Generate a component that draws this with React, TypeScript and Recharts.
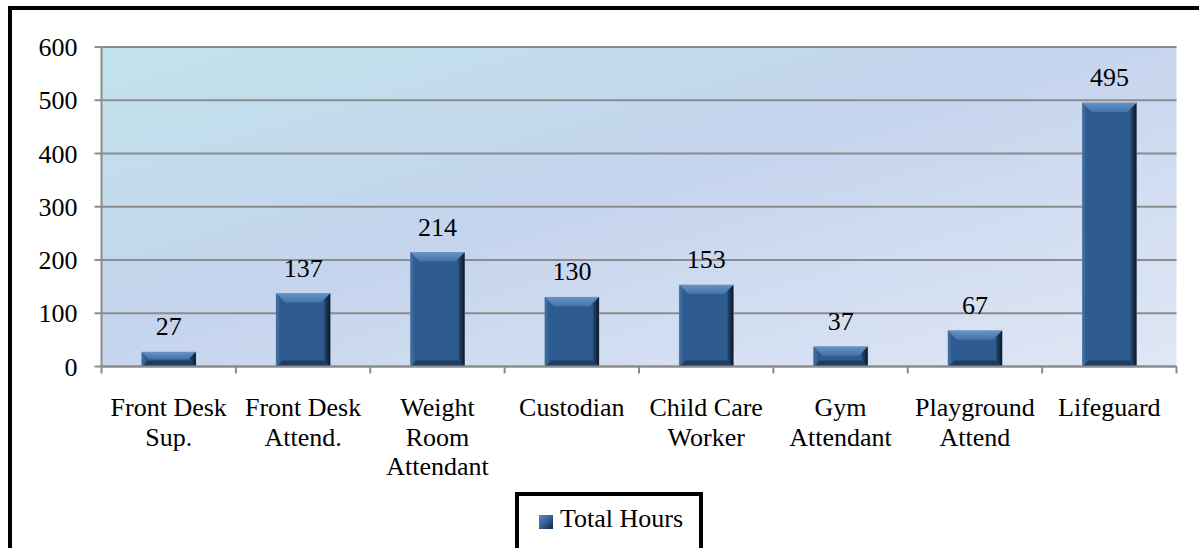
import React from "react";
import { BarChart, Bar, XAxis, YAxis, CartesianGrid, LabelList } from "recharts";

const categories = [
  "Front Desk\nSup.",
  "Front Desk\nAttend.",
  "Weight\nRoom\nAttendant",
  "Custodian",
  "Child Care\nWorker",
  "Gym\nAttendant",
  "Playground\nAttend",
  "Lifeguard",
];
const totalHours = [27, 137, 214, 130, 153, 37, 67, 495];
const yTicks = [0, 100, 200, 300, 400, 500, 600];
const seriesName = "Total Hours";

const data = categories.map((c, i) => ({ category: c, hours: totalHours[i] }));

const FONT = "Liberation Serif, Times New Roman, serif";
const GRID = "#8c8c8c";

const BevelBar = (props: any) => {
  const { x, y, width: w, height: h } = props;
  if (!h || h <= 0) return null;
  const b = Math.min(9, h / 2, w / 2);
  const sb = Math.min(6, h / 2, w / 2);
  const top = `${x},${y} ${x + w},${y} ${x + w - b},${y + b} ${x + b},${y + b}`;
  const right = `${x + w},${y} ${x + w},${y + h} ${x + w - sb},${y + h - sb} ${x + w - sb},${y + sb}`;
  const bottom = `${x},${y + h} ${x + w},${y + h} ${x + w - sb},${y + h - sb} ${x + sb},${y + h - sb}`;
  const left = `${x},${y} ${x + 3},${y + 3} ${x + 3},${y + h - 3} ${x},${y + h}`;
  return (
    <g>
      <rect x={x} y={y} width={w} height={h} fill="#2f5c90" stroke="#7f97b5" strokeWidth={0.8} />
      <polygon points={top} fill="url(#barTop)" />
      <polygon points={bottom} fill="#1f3d63" />
      <polygon points={right} fill="url(#barRight)" />
      <polygon points={left} fill="#3d6a9c" />
    </g>
  );
};

const XTick = (props: any) => {
  const { x, y, payload, index, width, visibleTicksCount } = props;
  const band =
    width && visibleTicksCount ? width / visibleTicksCount : (payload?.offset || 0) * 2;
  const lines = String(payload.value).split("\n");
  const isLast = index === visibleTicksCount - 1;
  return (
    <g>
      <line x1={x - band / 2} x2={x - band / 2} y1={y} y2={y + 7} stroke={GRID} strokeWidth={2} />
      {isLast && (
        <line x1={x + band / 2} x2={x + band / 2} y1={y} y2={y + 7} stroke={GRID} strokeWidth={2} />
      )}
      {lines.map((ln, i) => (
        <text
          key={i}
          x={x}
          y={y + 49.5 + i * 29.5}
          textAnchor="middle"
          fontSize={26}
          style={{ fontFamily: FONT }}
          fill="#000"
        >
          {ln}
        </text>
      ))}
    </g>
  );
};

const YTick = (props: any) => {
  const { x, y, payload } = props;
  return (
    <text
      x={x}
      y={y}
      dy="0.355em"
      textAnchor="end"
      fontSize={26}
      style={{ fontFamily: FONT }}
      fill="#000"
    >
      {payload.value}
    </text>
  );
};

const TopLabel = (props: any) => {
  const { x, y, width, value } = props;
  return (
    <text
      x={x + width / 2}
      y={y - 17}
      textAnchor="middle"
      fontSize={26}
      style={{ fontFamily: FONT }}
      fill="#000"
    >
      {value}
    </text>
  );
};

export default function App() {
  return (
    <div
      style={{
        position: "fixed",
        left: 0,
        top: 0,
        width: 1199,
        height: 548,
        overflow: "hidden",
        background: "#fff",
        fontFamily: FONT,
      }}
    >
      <div
        style={{
          position: "absolute",
          left: 8,
          top: 6,
          width: 1260,
          height: 620,
          border: "4px solid #000",
        }}
      />
      <div style={{ position: "absolute", left: 0, top: 0 }}>
        <BarChart
          width={1199}
          height={548}
          data={data}
          margin={{ top: 47, right: 22.5, left: 0, bottom: 0 }}
          barCategoryGap="30%"
          style={{ fontFamily: FONT }}
        >
          <defs>
            <linearGradient id="plotBg" x1="0" y1="0" x2="1" y2="1">
              <stop offset="0" stopColor="#c1e3eb" />
              <stop offset="0.45" stopColor="#c4d4ed" />
              <stop offset="1" stopColor="#e0e7f5" />
            </linearGradient>
            <linearGradient id="barTop" x1="0" y1="0" x2="0" y2="1">
              <stop offset="0" stopColor="#6592c6" />
              <stop offset="1" stopColor="#4473aa" />
            </linearGradient>
            <linearGradient id="barRight" x1="0" y1="0" x2="1" y2="0">
              <stop offset="0" stopColor="#27496f" />
              <stop offset="1" stopColor="#0c1826" />
            </linearGradient>
          </defs>
          <CartesianGrid vertical={false} stroke={GRID} strokeWidth={2} fill="url(#plotBg)" />
          <XAxis
            dataKey="category"
            height={181.5}
            tickSize={0}
            tickMargin={0}
            tickLine={false}
            axisLine={{ stroke: GRID, strokeWidth: 2 }}
            interval={0}
            tick={<XTick />}
          />
          <YAxis
            width={101.5}
            domain={[0, 600]}
            ticks={yTicks}
            interval={0}
            tickSize={7}
            tickMargin={17}
            axisLine={{ stroke: GRID, strokeWidth: 2 }}
            tickLine={{ stroke: GRID, strokeWidth: 2 }}
            tick={<YTick />}
          />
          <Bar dataKey="hours" name={seriesName} shape={BevelBar} isAnimationActive={false}>
            <LabelList dataKey="hours" position="top" content={<TopLabel />} />
          </Bar>
        </BarChart>
      </div>
      <div
        style={{
          position: "absolute",
          left: 515,
          top: 492,
          width: 180,
          height: 80,
          border: "4px solid #000",
          background: "#fff",
        }}
      >
        <div
          style={{
            position: "absolute",
            left: 20,
            top: 19,
            width: 14,
            height: 14,
            background: "linear-gradient(135deg, #5b8bc2 0%, #2f5c90 55%, #14263d 100%)",
          }}
        />
        <div
          style={{
            position: "absolute",
            left: 41,
            top: 8,
            fontSize: 26,
            lineHeight: "30px",
            fontFamily: FONT,
            color: "#000",
            whiteSpace: "nowrap",
          }}
        >
          {seriesName}
        </div>
      </div>
    </div>
  );
}
